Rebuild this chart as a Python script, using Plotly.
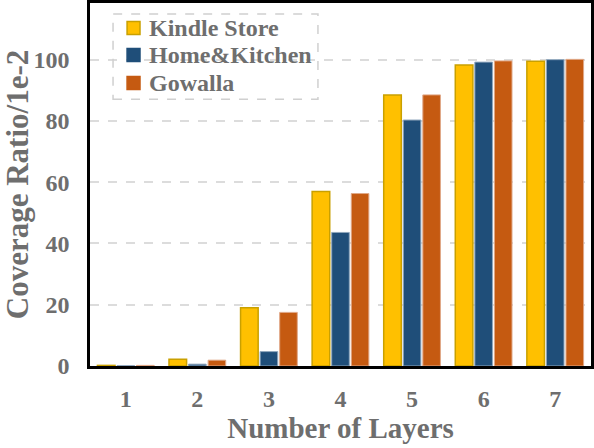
import plotly.graph_objects as go

layers = ["1", "2", "3", "4", "5", "6", "7"]
kindle = [0.2, 2.2, 19.0, 57.0, 88.5, 98.3, 99.5]
home = [0.1, 0.6, 4.7, 43.6, 80.3, 99.2, 100.0]
gowalla = [0.2, 1.9, 17.5, 56.3, 88.5, 99.6, 100.1]
yticks = [0, 20, 40, 60, 80, 100]

series_names = ["Kindle Store", "Home&Kitchen", "Gowalla"]
fill_colors = ["#FFC000", "#1F4E79", "#C55A11"]
edge_colors = ["#C9A000", "#8FA6BC", "#E0A888"]
edge_widths = [1.5, 1, 1]

fig = go.Figure()
for name, vals, fc, ec, ew in zip(series_names, [kindle, home, gowalla],
                                  fill_colors, edge_colors, edge_widths):
    fig.add_bar(x=layers, y=vals, name=name, showlegend=False,
                marker=dict(color=fc, line=dict(color=ec, width=ew)))

font_fam = "Liberation Serif"
grey = "#6E6E6E"

# custom legend (paper coordinates, layout only)
shapes = [dict(type="rect", xref="paper", yref="paper",
               x0=0.046, x1=0.455, y0=0.735, y1=0.97,
               line=dict(color="#D0D0D0", width=1.5, dash="dash"),
               fillcolor="rgba(0,0,0,0)")]
annotations = []
row_y = [0.931, 0.8567, 0.7796]
for i, name in enumerate(series_names):
    ey = row_y[i]
    shapes.append(dict(type="rect", xref="paper", yref="paper",
                       x0=0.074, x1=0.0998, y0=ey - 0.0179, y1=ey + 0.0179,
                       fillcolor=fill_colors[i],
                       line=dict(color="#C9A000" if i == 0 else fill_colors[i], width=1.5)))
    annotations.append(dict(xref="paper", yref="paper", x=0.1138, y=ey,
                            xanchor="left", yanchor="middle", showarrow=False,
                            text="<b>%s</b>" % name,
                            font=dict(family=font_fam, size=24, color=grey)))

fig.update_layout(
    width=594, height=448,
    margin=dict(l=90, r=3, t=3, b=82),
    plot_bgcolor="white", paper_bgcolor="white",
    barmode="group", bargap=0.18, bargroupgap=0.1,
    font=dict(family=font_fam, color=grey, size=24),
    showlegend=False,
    xaxis=dict(
        title=dict(text="<b>Number of Layers</b>", font=dict(size=29, color=grey), standoff=2),
        tickfont=dict(size=24, weight="bold"), automargin=False,
        showline=True, linecolor="black", linewidth=2.5, mirror=True,
        ticks="", ticklabelstandoff=9,
    ),
    yaxis=dict(
        title=dict(text="<b>Coverage Ratio/1e-2</b>", font=dict(size=31, color=grey), standoff=14),
        tickfont=dict(size=24, weight="bold"), automargin=False,
        range=[0, 118.5], tickvals=yticks,
        showline=True, linecolor="black", linewidth=2.5, mirror=True,
        showgrid=True, gridcolor="#DCDCDC", griddash="dash", gridwidth=1.5,
        zeroline=False, ticks="", ticklabelstandoff=13,
    ),
    shapes=shapes,
    annotations=annotations,
)
fig.write_html("out.html", config={"displayModeBar": False},
               post_script="document.body.style.margin='0';")
